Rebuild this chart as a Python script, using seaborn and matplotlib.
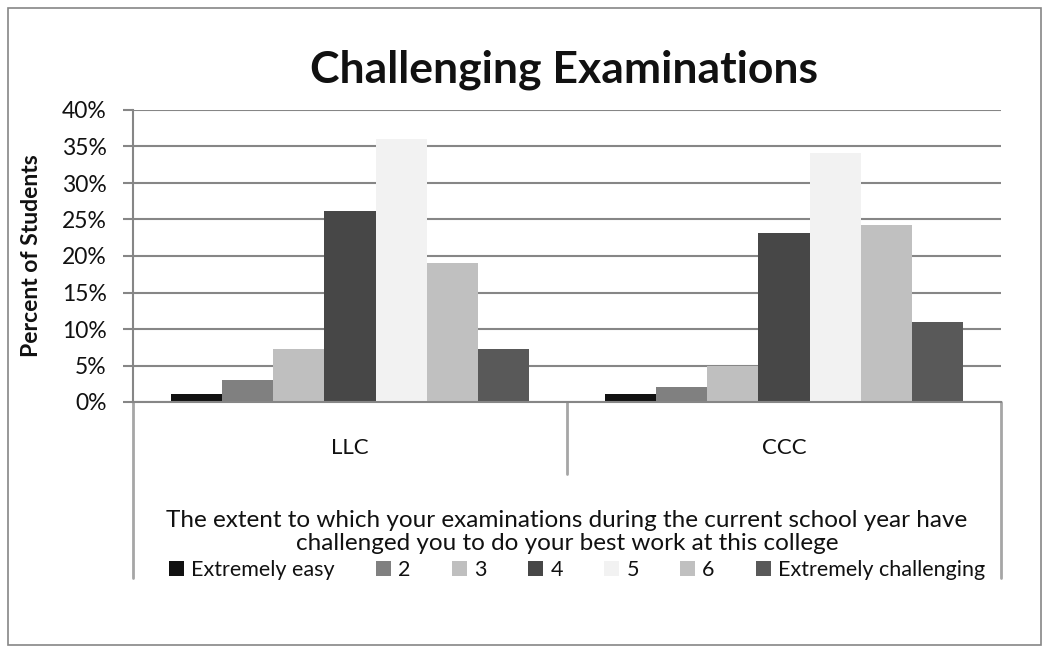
import matplotlib
matplotlib.use("Agg")
import matplotlib.pyplot as plt
import seaborn as sns
import pandas as pd
from matplotlib.patches import Rectangle
from matplotlib.lines import Line2D

sns.set_theme(style="white")
plt.rcParams['font.family'] = ['Lato', 'DejaVu Sans']

categories = ["LLC", "CCC"]
ratings = ["Extremely easy", "2", "3", "4", "5", "6", "Extremely challenging"]
llc_values = [1.1, 3.0, 7.2, 26.1, 36.0, 19.0, 7.2]
ccc_values = [1.1, 2.0, 5.0, 23.1, 34.1, 24.2, 11.0]
yticks = [0, 5, 10, 15, 20, 25, 30, 35, 40]
colors = ["#111111", "#808080", "#bfbfbf", "#474747", "#f2f2f2", "#c0c0c0", "#595959"]

rows = []
for cat, vals in zip(categories, [llc_values, ccc_values]):
    for r, v in zip(ratings, vals):
        rows.append({"College": cat, "Rating": r, "Percent": v})
df = pd.DataFrame(rows)

W, H = 1049, 653
fig = plt.figure(figsize=(W / 100, H / 100), dpi=100)
ax = fig.add_axes([133 / W, (H - 402) / H, (1001 - 133) / W, (402 - 110) / H])

sns.barplot(data=df, x="College", y="Percent", hue="Rating", order=categories,
            hue_order=ratings, palette=colors, width=0.825, gap=0,
            saturation=1, linewidth=0, ax=ax, legend=False)

ax.set_ylim(0, 40)
ax.set_xlim(-0.5, 1.5)
ax.set_yticks(yticks)
ax.set_yticklabels([f"{t}%" for t in yticks], fontsize=16.5, color="#111111")
ax.yaxis.grid(True, color="#868686", linewidth=1.5)
ax.set_axisbelow(True)
for s in ["top", "right"]:
    ax.spines[s].set_visible(False)
for s in ["left", "bottom"]:
    ax.spines[s].set_color("#868686")
    ax.spines[s].set_linewidth(1.5)
ax.tick_params(axis="y", which="both", left=True, length=7, width=1.5, color="#868686", pad=12)
ax.tick_params(axis="x", bottom=False, pad=20, labelsize=16, labelcolor="#111111")
ax.set_xlabel("")
ax.set_ylabel("Percent of Students", fontsize=16.5, fontweight="bold", labelpad=14, color="#111111")

# category separator lines below the axis
px = 1.0 / (402 - 110) * 40  # data units per pixel vertically
for xpos, depth in [(-0.5, 578), (0.5, 474), (1.5, 578)]:
    ax.add_line(Line2D([xpos, xpos], [0, -(depth - 402) * px], color="#a6a6a6",
                       linewidth=2, clip_on=False))

fig.text(564 / W, 1 - 70 / H, "Challenging Examinations", ha="center", va="center",
         fontsize=32, fontweight="bold", color="#111111")

fig.text(567 / W, 1 - 532 / H,
         "The extent to which your examinations during the current school year have\nchallenged you to do your best work at this college",
         ha="center", va="center", fontsize=17.5, color="#111111", linespacing=1.15)

handles = [Rectangle((0, 0), 1, 1, facecolor=c, edgecolor="none") for c in colors]
fig.legend(handles, ratings, loc="center", bbox_to_anchor=(577 / W, 1 - 570 / H), ncol=7,
           frameon=False, fontsize=15.5, handlelength=0.7, handleheight=0.7,
           handletextpad=0.35, columnspacing=1.9, labelcolor="#111111",
           borderpad=0, borderaxespad=0)

fig.add_artist(Rectangle((8 / W, 8 / H), (1041 - 8) / W, (645 - 8) / H, transform=fig.transFigure,
                         fill=False, edgecolor="#868686", linewidth=1.2))

fig.savefig("out.png", dpi=100)
